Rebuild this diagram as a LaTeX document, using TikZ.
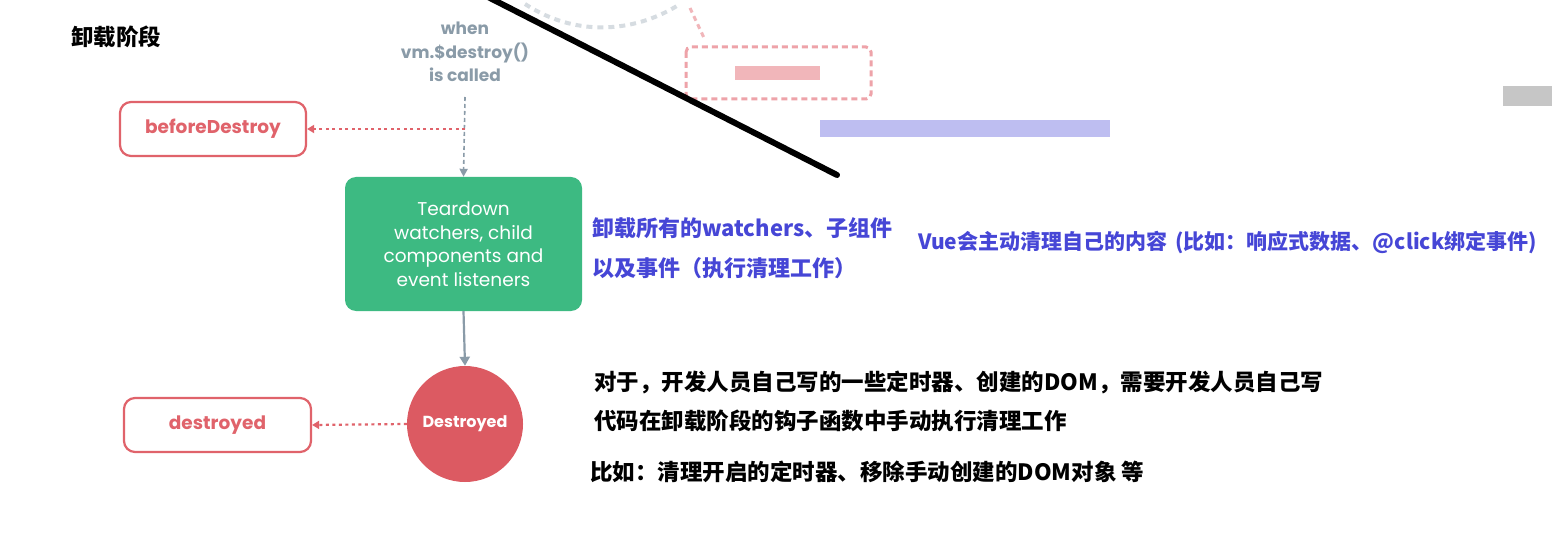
\documentclass[tikz,border=0pt]{standalone}
\usepackage{fontspec}
\setmainfont{Poppins}
\newfontfamily\cjk{Noto Sans CJK SC}
\usetikzlibrary{arrows.meta}
\definecolor{hookred}{HTML}{E0636B}
\definecolor{circred}{HTML}{DC5A62}
\definecolor{vuegreen}{HTML}{3DBA82}
\definecolor{greyc}{HTML}{8A9BA8}
\definecolor{bluec}{HTML}{4646D6}
\definecolor{pinkc}{HTML}{E8858C}
\tikzset{
  hook/.style={draw=hookred, line width=2.2, rounded corners=11, text=hookred,
    font=\bfseries\fontsize{18.5}{18.5}\selectfont, inner sep=0},
  reddot/.style={draw=hookred, line width=2.2, dash pattern=on 3 off 3.5,
    -{Triangle[length=7,width=8]}},
  greydash/.style={draw=greyc, line width=1.6, dash pattern=on 4 off 3,
    -{Triangle[length=8,width=8]}},
  greysolid/.style={draw=greyc, line width=2.2, -{Triangle[length=9,width=10]}},
  bluetxt/.style={text=bluec, anchor=west, inner sep=0, align=left},
  blacktxt/.style={text=black, anchor=west, inner sep=0, align=left},
}
\begin{document}
\begin{tikzpicture}[x=1pt,y=-1pt]
\useasboundingbox (0,0) rectangle (1552,537);
\fill[white] (0,0) rectangle (1552,537);

% censored / blurred decorations
\draw[greyc!35, line width=4, dash pattern=on 6 off 5] (525,4) .. controls (580,40) and (640,30) .. (680,4);
\draw[pinkc!60, line width=3, dash pattern=on 5 off 4] (690,8) -- (705,40);
\draw[pinkc!75, line width=3, dash pattern=on 6 off 4, rounded corners=5] (686,47) rectangle (871,99);
\fill[pinkc!60] (735,66) rectangle (820,80);
\fill[bluec!35] (820,120) rectangle (1110,137);
\fill[gray!45] (1503,86) rectangle (1552,106);
\draw[black, line width=6, line cap=round] (488,-3) -- (837,175);

% title
\node[anchor=west, inner sep=0, font=\cjk\bfseries\fontsize{22.5}{22.5}\selectfont] (title) at (71,37) {卸载阶段};

% trigger text
\node[font=\bfseries\fontsize{17}{23.5}\selectfont, text=greyc, align=center, inner sep=0] (when) at (465,52) {when\\vm.\$destroy()\\is called};

% nodes
\node[hook, minimum width=186, minimum height=54] (bd) at (213,129) {beforeDestroy};
\node[fill=vuegreen, rounded corners=11, minimum width=237, minimum height=134,
  text=white, align=center, font=\fontsize{18.5}{23.5}\selectfont, inner sep=0] (teardown) at (463.5,244)
  {Teardown\\watchers, child\\components and\\event listeners};
\node[circle, fill=circred, minimum size=116, inner sep=0, text=white,
  font=\bfseries\fontsize{16}{16}\selectfont] (destroyedc) at (465,424) {Destroyed};
\node[hook, minimum width=187, minimum height=54] (dd) at (217.5,425) {destroyed};

% connectors
\coordinate (start) at (465,97);
\coordinate (junction) at (465,129);
\draw[greydash] (start) -- (teardown.north);
\draw[reddot] (junction) -- (bd.east);
\draw[greysolid] (teardown.south) -- (destroyedc.north);
\draw[reddot] (destroyedc.west) -- (dd.east);

% annotations
\node[bluetxt, font=\cjk\bfseries\fontsize{22}{40}\selectfont] (note1) at (592,248)
  {卸载所有的watchers、子组件\\以及事件（执行清理工作）};
\node[bluetxt, font=\cjk\bfseries\fontsize{21}{21}\selectfont] (note2) at (918,243)
  {Vue会主动清理自己的内容 \,(比如：响应式数据、@click绑定事件)};
\node[blacktxt, font=\cjk\bfseries\fontsize{22.5}{39}\selectfont] (note3) at (594,401)
  {对于，开发人员自己写的一些定时器、创建的DOM，需要开发人员自己写\\代码在卸载阶段的钩子函数中手动执行清理工作};
\node[blacktxt, font=\cjk\bfseries\fontsize{22.5}{22.5}\selectfont] (note4) at (590,472)
  {比如：清理开启的定时器、移除手动创建的DOM对象 等};
\end{tikzpicture}
\end{document}
